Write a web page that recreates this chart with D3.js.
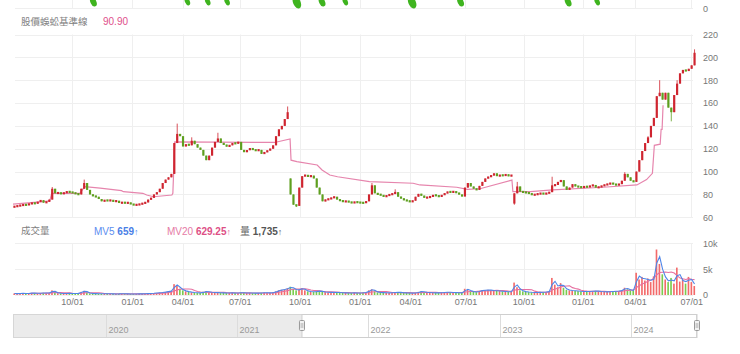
<!DOCTYPE html>
<html>
<head>
<meta charset="utf-8">
<script src="https://cdn.jsdelivr.net/npm/d3@7"></script>
<style>
  body { margin: 0; background: #fff; }
  svg { display: block; font-family: "Liberation Sans", Arial, "Noto Sans CJK TC", sans-serif; }
  .tick text { fill: #777; font-size: 9px; }
  .cjk { font-family: "Noto Sans CJK TC", "Noto Sans CJK SC", sans-serif; }
</style>
</head>
<body>
<svg id="chart" width="740" height="354"></svg>
<script>
// one bar = 3 trading days
const closes = [
  69.5, 70, 70.5, 71, 70.8, 71.8, 72.5, 72, 73.5, 75,
  72.8, 73.5, 75.5, 85, 81, 81.5, 80.5, 81.5, 82.5, 82,
  81.5, 80.5, 80, 85, 90, 84, 80, 78.5, 78, 76,
  74, 75, 74.5, 75, 73.8, 74.5, 72.5, 73, 72.5, 72.8,
  71.5, 70.8, 71, 71.5, 72.3, 73, 75.5, 77, 80, 82,
  85, 90, 93, 95, 98, 125, 133, 131, 122, 124,
  123, 127, 124, 121, 119, 114, 110, 114, 121, 126,
  129, 125, 123.5, 122, 123, 125, 124.5, 126, 119, 117,
  118.8, 120.5, 119, 118.5, 119, 115.5, 117, 118.5, 120, 123,
  131, 137, 140, 146, 152, 80, 71, 70, 86, 96,
  97, 95.5, 96.5, 94, 86, 80, 74, 75.5, 76, 77,
  78, 75.5, 74.5, 73.8, 74, 73.5, 72.5, 73.5, 73, 72.8,
  72.5, 74, 80, 88, 81, 80, 79.5, 78, 79, 80,
  80.5, 82, 78, 76.5, 75, 74.5, 73.5, 74.5, 78, 80.5,
  79, 77, 77.5, 78, 79.5, 79, 78, 79.5, 81, 82.4,
  82, 82.5, 81.5, 80, 78.2, 86, 90, 87, 85, 84,
  87.5, 91, 94, 95.5, 96.5, 98.5, 96, 97, 96.5, 97.5,
  96, 97, 81, 87, 82.4, 82, 81.5, 81, 79.5, 80,
  80.5, 81, 80.5, 81, 82, 88, 88.3, 91, 92.5, 87,
  84, 86, 89, 87, 86.8, 86, 87, 86.5, 87.5, 88.3,
  86, 86.5, 87.5, 88.5, 89, 90, 89, 88.3, 89, 92,
  98, 95, 92, 91, 100, 110, 118, 125, 130, 140,
  147, 166, 169, 163, 169, 156, 152, 167, 177, 186,
  189, 188, 190, 193, 204
];
// bars whose open is not the previous close (gaps)
const gapOpen = { 0: 69, 95: 94, 172: 72 };
const highs = { 13: 86.5, 24: 93, 56: 142, 61: 130, 70: 134, 94: 157, 123: 90, 131: 84.5,
                173: 91, 185: 95.5, 210: 99.5, 218: 131, 222: 180, 228: 180, 234: 207 };
const lows = { 97: 69, 172: 71, 226: 144 };

const volumes = [
  300, 250, 350, 300, 280, 320, 400, 350, 300, 380,
  420, 350, 400, 900, 500, 350, 300, 280, 320, 300,
  260, 300, 340, 600, 800, 500, 300, 280, 260, 250,
  240, 220, 250, 230, 210, 200, 220, 240, 230, 210,
  200, 190, 220, 210, 230, 250, 280, 300, 350, 400,
  450, 500, 600, 700, 800, 2100, 1800, 1200, 900, 700,
  600, 500, 450, 420, 400, 600, 700, 550, 500, 480,
  450, 420, 400, 380, 400, 420, 380, 400, 450, 420,
  380, 400, 380, 360, 380, 420, 450, 420, 400, 500,
  700, 900, 1000, 1100, 1300, 1600, 1200, 900, 1100, 1300,
  900, 700, 650, 600, 700, 800, 600, 550, 500, 520,
  480, 500, 450, 420, 400, 380, 400, 420, 380, 400,
  450, 500, 900, 1100, 700, 500, 480, 450, 420, 400,
  450, 500, 550, 480, 420, 400, 380, 360, 400, 600,
  700, 550, 500, 450, 420, 400, 420, 450, 500, 550,
  500, 480, 450, 420, 400, 1200, 1000, 700, 600, 550,
  800, 900, 950, 1000, 900, 850, 800, 750, 700, 650,
  600, 650, 2400, 1500, 900, 700, 600, 550, 500, 480,
  500, 520, 550, 600, 700, 3300, 2000, 1500, 2300, 1400,
  1000, 900, 850, 800, 750, 700, 680, 650, 700, 750,
  800, 700, 650, 600, 620, 650, 700, 750, 800, 900,
  1400, 1100, 900, 850, 4300, 3000, 3500, 2800, 3200, 2500,
  3600, 8800, 6000, 4000, 3000, 2500, 3300, 2200, 5300, 2600,
  3000, 2200, 3500, 2500, 1735
];

// 股價蜈蚣基準線: [trading day, value]
const baseline = [
  [0, 71.5], [31, 73.7], [38, 74.5], [40, 81], [69, 81], [74, 86.8], [90, 85.5],
  [112, 83.3], [114, 82.4], [134, 81], [138, 79.5], [145, 78], [164, 79.5], [165, 81],
  [167, 126], [270, 125.5], [286, 128.5], [287, 110], [293, 108.7], [314, 105.8],
  [319, 101.4], [327, 97], [335, 95.5], [368, 91.2], [413, 89.8], [420, 88.3],
  [458, 86.3], [469, 84.5], [482, 85], [515, 92.6], [516, 82.4], [534, 82.4],
  [557, 84], [609, 86.3], [644, 88.3], [654, 93], [660, 98.5], [662, 123],
  [668, 124], [669, 137], [670, 137], [671, 158]
];

const tickDays   = [61, 123, 175, 234, 296, 358, 410, 467, 527, 588, 642, 700];
const tickLabels = ['10/01', '01/01', '04/01', '07/01', '10/01', '01/01',
                    '04/01', '07/01', '10/01', '01/01', '04/01', '07/01'];
const priceTicks = [60, 80, 100, 120, 140, 160, 180, 200, 220];
const volTicks   = [0, 5000, 10000];

// markers of the panel above (cut off at the top)
const blobDays = [83, 180, 201, 221, 293, 319, 343, 412, 462, 573, 603];
const blobVal  = [3, 2, 2, 2, 5, 3, 2, 5, 3, 3, 2];

const navStart = new Date(2019, 3, 18),
      navEnd   = new Date(2024, 6, 3),
      viewStart = new Date(2021, 5, 30);

const barDays = 3, totalDays = 705;

const svg = d3.select('#chart');

// scales
const x  = d3.scaleLinear().domain([0, totalDays]).range([13, 696]);
const yP = d3.scaleLinear().domain([60, 220]).range([217.3, 34.5]);
const yV = d3.scaleLinear().domain([0, 10000]).range([295, 243.3]);
const gl = 15, gr = 693;

const bars = closes.map((c, i) => {
  const o = gapOpen[i] !== undefined ? gapOpen[i] : closes[i - 1];
  return {
    d: i * barDays + barDays / 2,
    o, c,
    hi: Math.max(o, c, highs[i] !== undefined ? highs[i] : -Infinity),
    lo: Math.min(o, c, lows[i] !== undefined ? lows[i] : Infinity),
    v: volumes[i]
  };
});

const grid = svg.append('g').attr('stroke', '#efefef').attr('stroke-width', 1);

// top strip
grid.append('line').attr('x1', gl).attr('x2', gr).attr('y1', 8.5).attr('y2', 8.5);
tickDays.forEach(d => {
  const xx = Math.round(x(d)) + 0.5;
  grid.append('line').attr('x1', xx).attr('x2', xx).attr('y1', 0).attr('y2', 8.5);
  grid.append('line').attr('x1', xx).attr('x2', xx).attr('y1', yP(220)).attr('y2', yP(60));
  grid.append('line').attr('x1', xx).attr('x2', xx).attr('y1', yV(10000)).attr('y2', yV(0));
});
priceTicks.forEach(t => {
  const yy = Math.round(yP(t)) + 0.5;
  grid.append('line').attr('x1', gl).attr('x2', gr).attr('y1', yy).attr('y2', yy);
});
volTicks.forEach(t => {
  const yy = Math.round(yV(t)) + 0.5;
  grid.append('line').attr('x1', gl).attr('x2', gr).attr('y1', yy).attr('y2', yy);
});

svg.append('text').attr('x', 703).attr('y', 9).attr('dy', '0.35em')
  .style('font-size', '9px').style('fill', '#777').text('0');

const rv = d3.scaleSqrt().domain([0, 5]).range([0, 5]);
svg.append('g').selectAll('ellipse').data(blobDays).enter().append('ellipse')
  .attr('cx', d => x(d))
  .attr('cy', (d, i) => rv(blobVal[i]) * 0.5)
  .attr('rx', (d, i) => rv(blobVal[i]) * 0.75)
  .attr('ry', (d, i) => rv(blobVal[i]) * 1.25)
  .attr('transform', (d, i) => `rotate(-25,${x(d)},${rv(blobVal[i]) * 0.5})`)
  .attr('fill', '#3fb41f');

// legends
svg.append('text').attr('class', 'cjk').attr('x', 21).attr('y', 21.5).attr('dy', '0.35em')
  .style('font-size', '9.5px').style('fill', '#808080').text('股價蜈蚣基準線');
svg.append('text').attr('x', 103).attr('y', 21.5).attr('dy', '0.35em')
  .style('font-size', '10px').style('fill', '#e0508a').text('90.90');

svg.append('text').attr('class', 'cjk').attr('x', 21).attr('y', 231).attr('dy', '0.35em')
  .style('font-size', '9.5px').style('fill', '#808080').text('成交量');

function legend(xx, name, val, col, valCol) {
  const t = svg.append('text').attr('x', xx).attr('y', 231).attr('dy', '0.35em')
    .style('font-size', '10px').style('fill', col);
  t.append('tspan').text(name + ' ');
  t.append('tspan').style('font-weight', 'bold').style('fill', valCol).text(val);
  t.append('tspan').style('font-size', '9px').text('↑');
}
legend(94, 'MV5', '659', '#5b8def', '#4a7ee6');
legend(167, 'MV20', '629.25', '#e57aa5', '#dd4f86');
legend(240, '量', '1,735', '#666', '#555');

// baseline
svg.append('path')
  .datum(baseline)
  .attr('d', d3.line().x(d => x(d[0])).y(d => yP(d[1])))
  .attr('fill', 'none')
  .attr('stroke', '#e685ad')
  .attr('stroke-width', 1.2);

// candles
const bw = (x(barDays) - x(0)) * 0.75;
const up = '#cf2530', down = '#5e9f1f';
const cg = svg.append('g');
bars.forEach(b => {
  const col = b.c >= b.o ? up : down;
  const cx = x(b.d);
  cg.append('line').attr('x1', cx).attr('x2', cx)
    .attr('y1', yP(b.hi)).attr('y2', yP(b.lo))
    .attr('stroke', col).attr('stroke-width', 0.8);
  const y0 = yP(Math.max(b.o, b.c)), y1 = yP(Math.min(b.o, b.c));
  const h = Math.max(2.2, y1 - y0);
  cg.append('rect').attr('x', cx - bw / 2).attr('width', bw)
    .attr('y', (y0 + y1) / 2 - h / 2).attr('height', h)
    .attr('fill', col);
});

// price axis
svg.append('g')
  .attr('transform', 'translate(700,0)')
  .call(d3.axisRight(yP).tickValues(priceTicks).tickSize(0).tickPadding(3))
  .call(g => g.select('.domain').remove());

// volume bars
const vg = svg.append('g');
bars.forEach(b => {
  vg.append('rect')
    .attr('x', x(b.d) - bw / 2).attr('width', bw * 0.75)
    .attr('y', yV(b.v)).attr('height', yV(0) - yV(b.v))
    .attr('fill', b.c >= b.o ? '#f36a6a' : '#7acb4e');
});

function movingAvg(n) {
  return bars.map((b, i) => [b.d, d3.mean(volumes.slice(Math.max(0, i - n + 1), i + 1))]);
}
const vline = d3.line().x(d => x(d[0])).y(d => yV(d[1]));
svg.append('path').datum(movingAvg(7)).attr('d', vline)
  .attr('fill', 'none').attr('stroke', '#e66fa0').attr('stroke-width', 1.1);
svg.append('path').datum(movingAvg(2)).attr('d', vline)
  .attr('fill', 'none').attr('stroke', '#4f86e8').attr('stroke-width', 1.1);

svg.append('g')
  .attr('transform', 'translate(700,0)')
  .call(d3.axisRight(yV).tickValues(volTicks).tickSize(0).tickPadding(3)
    .tickFormat(d => d === 0 ? '0' : d / 1000 + 'k'))
  .call(g => g.select('.domain').remove());

// time axis
svg.append('g')
  .attr('transform', 'translate(0,299)')
  .call(d3.axisBottom(x).tickValues(tickDays).tickSize(0).tickPadding(0)
    .tickFormat((d, i) => tickLabels[i]))
  .call(g => g.select('.domain').remove());

// navigator
const tn = d3.scaleTime().domain([navStart, navEnd]).range([13, 697]);
const ny0 = 314.5, ny1 = 337.5;
const nav = svg.append('g');
nav.append('rect').attr('x', 13.5).attr('y', ny0).attr('width', tn(viewStart) - 13.5)
  .attr('height', ny1 - ny0).attr('fill', '#ebebeb');
d3.timeYear.range(navStart, navEnd).forEach(yr => {
  const xx = Math.round(tn(yr)) + 0.5;
  nav.append('line').attr('x1', xx).attr('x2', xx).attr('y1', ny0).attr('y2', ny1)
    .attr('stroke', '#dcdcdc');
  nav.append('text').attr('x', xx + 2).attr('y', 333)
    .style('font-size', '9px').style('fill', '#999').text(d3.timeFormat('%Y')(yr));
});
nav.append('rect').attr('x', 13.5).attr('y', ny0).attr('width', 683).attr('height', ny1 - ny0)
  .attr('fill', 'none').attr('stroke', '#d6d6d6');
nav.append('rect').attr('x', tn(viewStart)).attr('y', ny0)
  .attr('width', 697 - tn(viewStart)).attr('height', ny1 - ny0)
  .attr('fill', 'none').attr('stroke', '#cfcfcf');
[tn(viewStart), 697].forEach(hx => {
  nav.append('rect').attr('x', hx - 2.5).attr('y', 320.5).attr('width', 5).attr('height', 10)
    .attr('rx', 1).attr('fill', '#f2f2f2').attr('stroke', '#999');
  [-0.8, 0.8].forEach(o => nav.append('line')
    .attr('x1', hx + o).attr('x2', hx + o).attr('y1', 323).attr('y2', 328)
    .attr('stroke', '#999').attr('stroke-width', 0.6));
});
</script>
</body>
</html>
